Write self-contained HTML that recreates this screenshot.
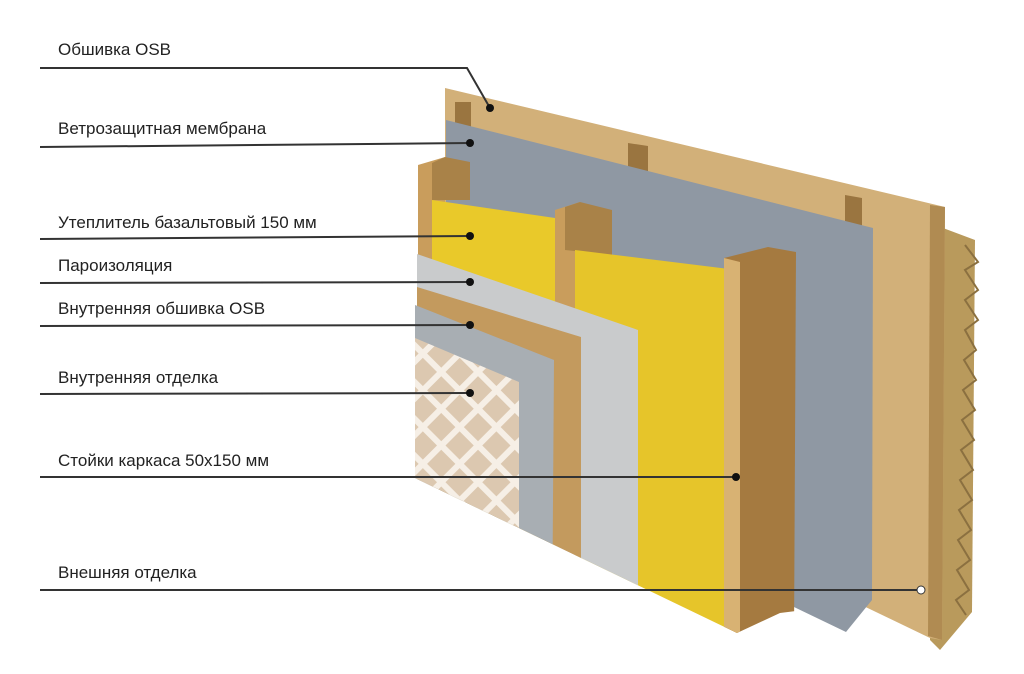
<!DOCTYPE html>
<html><head><meta charset="utf-8"><style>
html,body{margin:0;padding:0;background:#fff;width:1024px;height:674px;overflow:hidden}
svg{display:block}
text{font-family:"Liberation Sans","DejaVu Sans",sans-serif;font-size:17px;fill:#222}
</style></head><body>
<svg width="1024" height="674" viewBox="0 0 1024 674" xmlns="http://www.w3.org/2000/svg">
<defs>
<pattern id="lat" width="26" height="26" patternUnits="userSpaceOnUse" patternTransform="rotate(45)">
<rect width="26" height="26" fill="#dcc8b0"/>
<rect x="0" y="0" width="26" height="6" fill="#f6efe6"/>
<rect x="0" y="0" width="6" height="26" fill="#f6efe6"/>
</pattern>
<clipPath id="front"><polygon points="380,0 820,0 820,608 780,613 737,633 415,478 380,461"/></clipPath>
</defs>
<!-- siding behind -->
<polygon points="935,225 975,240 972,612 940,650 930,640" fill="#b99a5c"/>
<polyline points="965,245 978,262 965,270 978,290 965,300 978,320 965,330 976,350 964,360 976,380 963,390 975,410 962,420 974,440 961,450 973,470 960,480 972,500 959,510 971,530 958,540 970,560 957,570 969,590 956,600 966,615" fill="none" stroke="#8b7040" stroke-width="2"/>
<!-- outer OSB -->
<polygon points="445,88 945,207 942,640 930,638 445,405" fill="#d2b079"/>
<polygon points="930,205 945,207 942,640 928,636" fill="#b08b52"/>
<!-- back studs -->
<rect x="455" y="102" width="16" height="30" fill="#9a7540"/>
<polygon points="628,143 648,146 648,190 628,188" fill="#9a7540"/>
<polygon points="845,195 862,198 862,240 845,238" fill="#9a7540"/>
<!-- membrane -->
<polygon points="446,120 873,228 872,600 846,632 446,440" fill="#8f98a3"/>
<g clip-path="url(#front)">
<!-- left stud -->
<polygon points="418,165 445,157 445,600 418,600" fill="#c99d5c"/>
<polygon points="432,163 445,157 470,162 470,200 432,200" fill="#a98248"/>
<!-- insulation left -->
<polygon points="432,200 555,218 555,600 432,600" fill="#e9c92a"/>
<!-- middle stud -->
<polygon points="555,210 580,202 582,600 555,600" fill="#c99d5c"/>
<polygon points="565,207 580,202 612,210 612,255 565,250" fill="#a98248"/>
<!-- insulation right -->
<polygon points="575,250 737,270 737,652 575,640" fill="#e6c52a"/>
<!-- right stud -->
<polygon points="724,258 768,247 796,252 794,640 737,652 724,650" fill="#a57a40"/>
<polygon points="724,258 740,262 740,652 724,650" fill="#d8b273"/>
<!-- vapour barrier -->
<polygon points="417,254 638,330 638,640 417,640" fill="#c9cbcc"/>
<!-- inner OSB -->
<polygon points="417,287 581,337 581,640 552,640 417,640" fill="#c39a5e"/>
<!-- inner finish grey frame -->
<polygon points="415,305 554,360 552,640 415,640" fill="#a8aeb3"/>
<!-- lattice -->
<polygon points="415,338 519,382 519,640 415,640" fill="url(#lat)"/>
</g>
<!-- leader lines -->
<g stroke="#333" stroke-width="2" fill="none">
<polyline points="40,68 467,68 490,108"/>
<line x1="40" y1="147" x2="470" y2="143"/>
<line x1="40" y1="239" x2="470" y2="236"/>
<line x1="40" y1="283" x2="470" y2="282"/>
<line x1="40" y1="326" x2="470" y2="325"/>
<line x1="40" y1="394" x2="470" y2="393"/>
<line x1="40" y1="477" x2="736" y2="477"/>
<line x1="40" y1="590" x2="920" y2="590"/>
</g>
<g fill="#111">
<circle cx="490" cy="108" r="4"/><circle cx="470" cy="143" r="4"/><circle cx="470" cy="236" r="4"/>
<circle cx="470" cy="282" r="4"/><circle cx="470" cy="325" r="4"/><circle cx="470" cy="393" r="4"/>
<circle cx="736" cy="477" r="4"/>
</g>
<circle cx="921" cy="590" r="4" fill="#fff" stroke="#333" stroke-width="1"/>
<text x="58" y="55">Обшивка OSB</text>
<text x="58" y="134">Ветрозащитная мембрана</text>
<text x="58" y="228">Утеплитель базальтовый 150 мм</text>
<text x="58" y="271">Пароизоляция</text>
<text x="58" y="314">Внутренняя обшивка OSB</text>
<text x="58" y="383">Внутренняя отделка</text>
<text x="58" y="466">Стойки каркаса 50х150 мм</text>
<text x="58" y="578">Внешняя отделка</text>
</svg>
</body></html>
